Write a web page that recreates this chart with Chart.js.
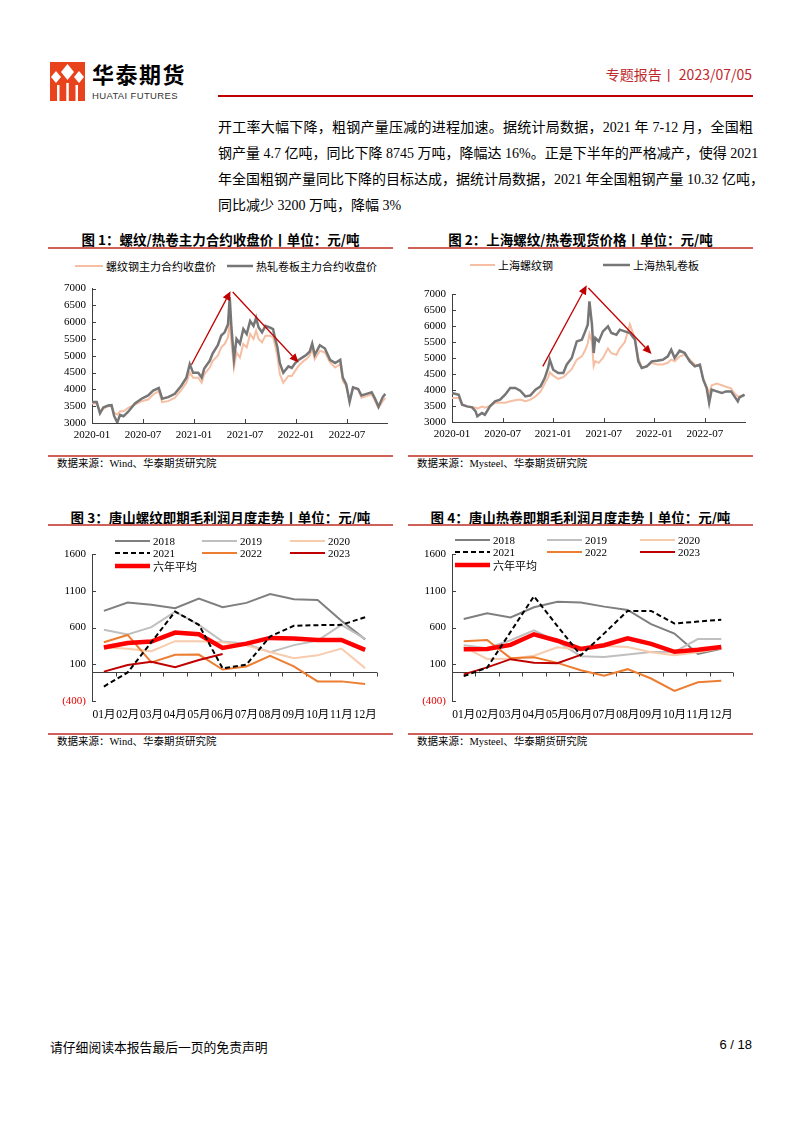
<!DOCTYPE html>
<html>
<head>
<meta charset="utf-8">
<script src="https://cdn.jsdelivr.net/npm/chart.js@4.4.0/dist/chart.umd.min.js"></script>
<style>
  body { margin: 0; background: #fff; }
  #page { position: relative; width: 802px; height: 1133px; overflow: hidden; color: #000;
          font-family: "Liberation Serif", "Noto Sans CJK SC", serif; }
  .abs { position: absolute; }
  .title { position: absolute; width: 345px; text-align: center; font: bold 13.5px "Noto Sans CJK SC", sans-serif; line-height: 20px; }
  .rule { position: absolute; width: 345px; height: 1.5px; background: #d0605a; }
  .src { position: absolute; font-size: 10.5px; line-height: 14px; }
  .para div { height: 26px; line-height: 26px; font-size: 14px; text-align: justify; text-align-last: justify; white-space: nowrap; }
  .para div.last { text-align-last: left; }
  .leg { position: absolute; display: flex; align-items: center; height: 14px; font-size: 11px; white-space: nowrap; }
  .leg svg { margin-right: 3px; }
  canvas { position: absolute; }
</style>
</head>
<body>
<div id="page">
  <svg class="abs" style="left:50px;top:62px" width="35" height="39" viewBox="0 0 35 39">
    <rect x="0" y="0" width="35" height="39" fill="#e8431c"/>
    <polygon points="17.5,2 24,10 17.5,18 11,10" fill="#fff"/>
    <polygon points="6,9 11,15 6,21 1,15" fill="#fff"/>
    <polygon points="29,9 34,15 29,21 24,15" fill="#fff"/>
    <rect x="7" y="23" width="2.5" height="16" fill="#fff"/>
    <rect x="16.3" y="21" width="2.5" height="18" fill="#fff"/>
    <rect x="25.5" y="23" width="2.5" height="16" fill="#fff"/>
  </svg>
  <div class="abs" style="left:92px;top:60px;font:bold 22px 'Noto Sans CJK SC';letter-spacing:1.5px;line-height:26px;">华泰期货</div>
  <div class="abs" style="left:92px;top:90px;font:9.5px 'Liberation Sans';letter-spacing:0.35px;color:#333;">HUATAI FUTURES</div>
  <div class="abs" style="right:50px;top:64px;font:14px 'Liberation Sans Narrow','Noto Sans CJK SC';color:#c0282d;">专题报告丨 2023/07/05</div>
  <div class="abs" style="left:218px;top:95px;width:535px;height:2px;background:#c00000;"></div>

  <div class="abs para" style="left:218px;top:115px;width:535px;">
    <div>开工率大幅下降，粗钢产量压减的进程加速。据统计局数据，2021 年 7-12 月，全国粗</div>
    <div>钢产量 4.7 亿吨，同比下降 8745 万吨，降幅达 16%。正是下半年的严格减产，使得 2021</div>
    <div>年全国粗钢产量同比下降的目标达成，据统计局数据，2021 年全国粗钢产量 10.32 亿吨，</div>
    <div class="last">同比减少 3200 万吨，降幅 3%</div>
  </div>

  <div class="title" style="left:48px;top:229px;">图 1：螺纹/热卷主力合约收盘价丨单位：元/吨</div>
  <div class="rule" style="left:48px;top:247px;"></div>
  <div class="title" style="left:408px;top:229px;">图 2：上海螺纹/热卷现货价格丨单位：元/吨</div>
  <div class="rule" style="left:408px;top:247px;"></div>

  <canvas id="c1" width="346" height="172" style="left:48px;top:276px"></canvas>
  <canvas id="c2" width="346" height="167" style="left:408px;top:280px"></canvas>

  <div class="rule" style="left:48px;top:455px;"></div>
  <div class="src" style="left:57px;top:457px;">数据来源：Wind、华泰期货研究院</div>
  <div class="rule" style="left:408px;top:455px;"></div>
  <div class="src" style="left:417px;top:457px;">数据来源：Mysteel、华泰期货研究院</div>

  <div class="title" style="left:48px;top:507px;">图 3：唐山螺纹即期毛利润月度走势丨单位：元/吨</div>
  <div class="rule" style="left:48px;top:524px;"></div>
  <div class="title" style="left:408px;top:507px;">图 4：唐山热卷即期毛利润月度走势丨单位：元/吨</div>
  <div class="rule" style="left:408px;top:524px;"></div>

  <canvas id="c3" width="346" height="186" style="left:48px;top:540px"></canvas>
  <canvas id="c4" width="346" height="186" style="left:408px;top:540px"></canvas>

  <div class="rule" style="left:48px;top:733px;"></div>
  <div class="src" style="left:57px;top:735px;">数据来源：Wind、华泰期货研究院</div>
  <div class="rule" style="left:408px;top:733px;"></div>
  <div class="src" style="left:417px;top:735px;">数据来源：Mysteel、华泰期货研究院</div>

  <div class="abs" style="left:50px;top:1037px;font:12.8px 'Noto Sans CJK SC';">请仔细阅读本报告最后一页的免责声明</div>
  <div class="abs" style="right:50px;top:1037px;font:13px 'Liberation Sans Narrow','Liberation Sans';">6 / 18</div>
</div>

<script>
// ---- data ----
// figure 1: futures close, x = months since 2020-01
const months1 = [0, 0.55, 0.94, 1.33, 1.9, 2.3, 2.6, 2.97, 3.3, 3.7, 4.26, 5.05, 5.83, 6.6, 7.2, 7.86, 8.25, 8.96, 9.74, 10.5,
  11.1, 11.5, 11.9, 12.5, 12.9, 13.2, 13.85, 14.2, 14.8, 15.2, 15.6, 16.0, 16.2, 16.4, 16.7, 17.0, 17.4, 17.8, 18.2, 18.6,
  19.0, 19.3, 19.6, 20.0, 20.4, 20.9, 21.3, 21.5, 21.8, 22.1, 22.5, 23.1, 23.5, 23.9, 24.3, 24.9, 25.2, 25.6, 25.9, 26.2,
  26.8, 27.4, 28.0, 28.6, 29.2, 29.5, 29.9, 30.3, 30.7, 31.3, 31.7, 32.3, 32.9, 33.3, 33.7, 34.2, 34.5];
const hrcFut = [3626, 3626, 3290, 3463, 3520, 3530, 3210, 3018, 3240, 3200, 3335, 3580, 3722, 3819, 3964, 4041, 3723, 3770, 3868, 4108,
  4348, 4753, 4493, 4493, 4348, 4620, 4851, 5072, 5313, 5602, 5698, 5939, 6750, 5843, 4900, 5505, 5360, 5794, 5650, 6036,
  5890, 6132, 5843, 5700, 5890, 5843, 5795, 5554, 5265, 4783, 4494, 4686, 4638, 4783, 4879, 4976, 5024, 5120, 5361, 5024,
  5313, 5217, 4879, 4783, 4879, 4349, 4156, 3626, 4060, 4012, 3819, 3867, 3915, 3722, 3481, 3771, 3867];
const rebarFut = [3580, 3580, 3350, 3420, 3500, 3500, 3300, 3250, 3350, 3350, 3450, 3550, 3650, 3700, 3850, 3950, 3620, 3650, 3750, 3980,
  4200, 4500, 4350, 4350, 4200, 4450, 4650, 4850, 5000, 5250, 5350, 5550, 6050, 5400, 4650, 5100, 4950, 5350, 5250, 5650,
  5500, 5750, 5500, 5400, 5600, 5600, 5550, 5350, 5000, 4450, 4200, 4400, 4400, 4550, 4700, 4850, 4900, 5000, 5200, 4900,
  5150, 5100, 4800, 4650, 4750, 4250, 4100, 3650, 4050, 4000, 3750, 3800, 3850, 3650, 3450, 3650, 3750];
const arrows1 = [[11.7, 4735, 16.3, 6923], [16.55, 6900, 24.3, 4800]];

// figure 2: Shanghai spot prices
const months2 = [0, 0.8, 1.2, 1.8, 2.4, 2.8, 3.0, 3.55, 3.9, 4.5, 5.1, 5.7, 6.3, 6.9, 7.5, 8.1, 8.7, 9.3, 9.9, 10.5,
  11.0, 11.4, 11.6, 12.0, 12.6, 13.2, 13.6, 14.2, 14.8, 15.4, 15.8, 16.1, 16.3, 16.6, 16.8, 17.0, 17.4, 17.9, 18.5, 18.9,
  19.5, 19.9, 20.5, 21.1, 21.7, 22.1, 22.5, 23.1, 23.7, 24.3, 25.0, 25.6, 26.0, 26.4, 27.0, 27.6, 28.2, 28.8, 29.4, 29.8,
  30.2, 30.5, 30.8, 31.4, 32.0, 32.5, 33.1, 33.5, 33.9, 34.1, 34.7];
const hrcSpot = [3906, 3853, 3540, 3489, 3457, 3332, 3176, 3280, 3228, 3489, 3645, 3697, 3853, 4062, 4062, 3978, 3801, 3832, 4010, 4114,
  4374, 4687, 4947, 4635, 4530, 4530, 4791, 5000, 5520, 5572, 5833, 6041, 6771, 6041, 5156, 5625, 5520, 5833, 5989, 5781,
  5729, 5885, 5833, 5781, 5572, 4895, 4687, 4739, 4895, 4916, 4947, 5052, 5260, 5000, 5229, 5156, 4895, 4739, 4791, 4322,
  4062, 3593, 4010, 3957, 3905, 3957, 3957, 3801, 3645, 3770, 3853];
const rebarSpot = [3750, 3750, 3550, 3480, 3450, 3450, 3420, 3480, 3450, 3500, 3600, 3600, 3600, 3650, 3680, 3700, 3650, 3700, 3800, 3950,
  4200, 4400, 4550, 4450, 4350, 4400, 4500, 4650, 4950, 5050, 5250, 5450, 5750, 5500, 4750, 4900, 4850, 5000, 5300, 5150,
  5100, 5300, 5500, 6050, 5600, 5000, 4700, 4750, 4850, 4800, 4800, 4850, 4950, 4900, 5050, 5100, 4950, 4800, 4750, 4350,
  4100, 3900, 4150, 4200, 4150, 4100, 4050, 3900, 3800, 3800, 3850];
const arrows2 = [[10.77, 4739, 15.98, 7271], [16.17, 7188, 23.67, 5124]];

// figures 3 & 4: monthly gross profit
const monthLabels = ['01月', '02月', '03月', '04月', '05月', '06月', '07月', '08月', '09月', '10月', '11月', '12月'];
const yearNames = ['2018', '2019', '2020', '2021', '2022', '2023', '六年平均'];
const rebar2018 = [826, 939, 908, 862, 994, 876, 935, 1054, 986, 975, 692, 438];
const rebar2019 = [570, 504, 604, 817, 635, 410, 380, 265, 360, 421, 636, 444];
const rebar2020 = [330, 310, 277, 414, 414, 400, 357, 266, 183, 221, 313, 47];
const rebar2021 = [-203, -12, 400, 817, 636, 45, 95, 478, 623, 632, 636, 740];
const rebar2022 = [400, 499, 125, 228, 232, 28, 70, 215, 70, -133, -133, -169];
const rebar2023 = [0, 90, 135, 59, 158, 240];
const rebarAvg = [327, 390, 409, 531, 508, 322, 380, 458, 450, 431, 431, 296];

const hrc2018 = [715, 794, 737, 876, 950, 941, 884, 839, 646, 518, 239, 312];
const hrc2019 = [359, 318, 427, 562, 408, 210, 200, 234, 266, 270, 443, 443];
const hrc2020 = [336, 172, 176, 217, 330, 296, 348, 336, 262, 221, 262, 318];
const hrc2021 = [-62, 54, 540, 1025, 620, 221, 520, 826, 826, 654, 680, 707];
const hrc2022 = [414, 431, 183, 196, 119, 19, -56, 33, -94, -262, -146, -123];
const hrc2023 = [-38, 58, 169, 119, 115, 228];
const hrcAvg = [305, 309, 364, 508, 420, 309, 359, 454, 377, 269, 296, 336];

// ---- styles ----
const yearStyles = [
  { color: '#7f7f7f', width: 2, order: 6 },
  { color: '#bfbfbf', width: 2, order: 5 },
  { color: '#f8cbad', width: 2, order: 4 },
  { color: '#000000', width: 2, order: 0, dash: [5, 3] },
  { color: '#ed7d31', width: 2, order: 3 },
  { color: '#c00000', width: 2, order: 2 },
  { color: '#ff0000', width: 4.5, order: 1 }
];
const pinkLine = '#f6bea3';
const grayLine = '#767676';

Chart.defaults.font.family = "'Liberation Serif', 'Noto Sans CJK SC', serif";
Chart.defaults.color = '#000';

// small inward axis ticks, plus the zero line for the profit charts
const axisTicks = {
  id: 'axisTicks',
  beforeDatasetsDraw(chart, args, opts) {
    const { ctx, chartArea: a, scales: { x, y } } = chart;
    ctx.save();
    ctx.strokeStyle = '#404040';
    ctx.lineWidth = 1;
    ctx.beginPath();
    y.ticks.forEach(t => {
      const py = Math.round(y.getPixelForValue(t.value)) + 0.5;
      ctx.moveTo(a.left, py); ctx.lineTo(a.left + 4, py);
    });
    if (opts.zero) {
      const z = Math.round(y.getPixelForValue(0)) + 0.5;
      ctx.moveTo(a.left, z); ctx.lineTo(a.right, z);
      const n = x.ticks.length, w = (a.right - a.left) / n;
      for (let i = 1; i <= n; i++) {
        const px = Math.round(a.left + i * w) + 0.5;
        ctx.moveTo(px, z); ctx.lineTo(px, z + 4);
      }
    } else {
      x.ticks.forEach(t => {
        const px = Math.round(x.getPixelForValue(t.value)) + 0.5;
        ctx.moveTo(px, a.bottom); ctx.lineTo(px, a.bottom - 4);
      });
    }
    ctx.stroke();
    ctx.restore();
  }
};

// red trend arrows, given in data units
const arrows = {
  id: 'arrows',
  afterDatasetsDraw(chart, args, opts) {
    if (!opts.list) return;
    const { ctx, scales: { x, y } } = chart;
    ctx.save();
    ctx.strokeStyle = ctx.fillStyle = '#c00000';
    ctx.lineWidth = 1.3;
    opts.list.forEach(([x0, y0, x1, y1]) => {
      const a = x.getPixelForValue(x0), b = y.getPixelForValue(y0);
      const c = x.getPixelForValue(x1), d = y.getPixelForValue(y1);
      const ang = Math.atan2(d - b, c - a), L = 9, W = 4;
      const bx = c - L * Math.cos(ang), by = d - L * Math.sin(ang);
      ctx.beginPath(); ctx.moveTo(a, b); ctx.lineTo(bx, by); ctx.stroke();
      ctx.beginPath();
      ctx.moveTo(c, d);
      ctx.lineTo(bx - W * Math.sin(ang), by + W * Math.cos(ang));
      ctx.lineTo(bx + W * Math.sin(ang), by - W * Math.cos(ang));
      ctx.closePath(); ctx.fill();
    });
    ctx.restore();
  }
};
Chart.register(axisTicks, arrows);

function monthTick(v) {
  const y = 2020 + Math.floor(v / 12), m = v % 12 + 1;
  return y + '-' + String(m).padStart(2, '0');
}

function priceChart(id, xs, series, arrowList, xmax, pad) {
  new Chart(document.getElementById(id), {
    type: 'line',
    data: {
      datasets: series.map(s => ({
        label: s.name,
        data: xs.map((m, i) => ({ x: m, y: s.values[i] })),
        borderColor: s.color, borderWidth: s.width, order: s.order,
        pointRadius: 0, tension: 0
      }))
    },
    options: {
      responsive: false, animation: false,
      layout: { padding: { top: pad.top, right: pad.right, left: 0, bottom: 0 } },
      plugins: { legend: { display: false }, tooltip: { enabled: false }, arrows: { list: arrowList }, axisTicks: { zero: false } },
      scales: {
        x: {
          type: 'linear', min: 0, max: xmax,
          grid: { display: false, drawTicks: false }, border: { color: '#404040' },
          ticks: { stepSize: 6, includeBounds: false, padding: 6, autoSkip: false, maxRotation: 0, font: { size: 11 }, callback: monthTick },
          afterFit: s => { s.height = 25; }
        },
        y: {
          min: 3000, max: 7000,
          grid: { display: false, drawTicks: false }, border: { color: '#404040' },
          ticks: { stepSize: 500, padding: 6, autoSkip: false, font: { size: 11 }, callback: v => String(v) },
          afterFit: s => { s.width = 44; }
        }
      }
    }
  });
}

function profitChart(id, seriesValues, padRight) {
  new Chart(document.getElementById(id), {
    type: 'line',
    data: {
      labels: monthLabels,
      datasets: seriesValues.map((vals, i) => ({
        label: yearNames[i], data: vals,
        borderColor: yearStyles[i].color, borderWidth: yearStyles[i].width,
        borderDash: yearStyles[i].dash || [], order: yearStyles[i].order,
        pointRadius: 0, tension: 0
      }))
    },
    options: {
      responsive: false, animation: false,
      layout: { padding: { top: 14, right: padRight, left: 0, bottom: 0 } },
      plugins: { legend: { display: false }, tooltip: { enabled: false }, axisTicks: { zero: true } },
      scales: {
        x: {
          offset: true, grid: { display: false, drawTicks: false }, border: { display: false },
          ticks: { padding: 7, autoSkip: false, maxRotation: 0, font: { size: 11.5 } },
          afterFit: s => { s.height = 25; }
        },
        y: {
          min: -400, max: 1600,
          grid: { display: false, drawTicks: false }, border: { color: '#404040' },
          ticks: {
            stepSize: 500, padding: 6, autoSkip: false, font: { size: 11 },
            color: c => c.tick.value < 0 ? '#e00000' : '#000',
            callback: v => v < 0 ? '(' + (-v) + ')' : String(v)
          },
          afterFit: s => { s.width = 44; }
        }
      }
    }
  });
}

priceChart('c1', months1, [
  { name: '螺纹钢主力合约收盘价', values: rebarFut, color: pinkLine, width: 2, order: 1 },
  { name: '热轧卷板主力合约收盘价', values: hrcFut, color: grayLine, width: 2.5, order: 0 }
], arrows1, 34.7, { top: 9, right: 7 });

priceChart('c2', months2, [
  { name: '上海螺纹钢', values: rebarSpot, color: pinkLine, width: 2, order: 1 },
  { name: '上海热轧卷板', values: hrcSpot, color: grayLine, width: 2.5, order: 0 }
], arrows2, 34.75, { top: 14, right: 9 });

profitChart('c3', [rebar2018, rebar2019, rebar2020, rebar2021, rebar2022, rebar2023, rebarAvg], 17);
profitChart('c4', [hrc2018, hrc2019, hrc2020, hrc2021, hrc2022, hrc2023, hrcAvg], 21);

// ---- HTML legends ----
const page = document.getElementById('page');
function legendItem(left, cy, len, text, color, width, dash) {
  const d = document.createElement('div');
  d.className = 'leg';
  d.style.left = left + 'px';
  d.style.top = (cy - 7) + 'px';
  const da = dash ? ' stroke-dasharray="' + dash.join(',') + '"' : '';
  d.innerHTML = '<svg width="' + len + '" height="8"><line x1="0" y1="4" x2="' + len + '" y2="4" stroke="' + color +
    '" stroke-width="' + width + '"' + da + '/></svg><span>' + text + '</span>';
  page.appendChild(d);
}
legendItem(75, 266, 28, '螺纹钢主力合约收盘价', pinkLine, 2);
legendItem(227, 266, 26, '热轧卷板主力合约收盘价', grayLine, 2.5);
legendItem(470, 265, 25, '上海螺纹钢', pinkLine, 2);
legendItem(603, 265, 27, '上海热轧卷板', grayLine, 2.5);

function yearLegend(cols, rows) {
  yearNames.forEach((n, i) => {
    const st = yearStyles[i];
    legendItem(cols[i % 3], rows[Math.floor(i / 3)], 35, n, st.color, st.width, st.dash);
  });
}
yearLegend([115, 202, 290], [541, 553, 566]);
yearLegend([455, 547, 640], [540, 552, 565]);
</script>
</body>
</html>
